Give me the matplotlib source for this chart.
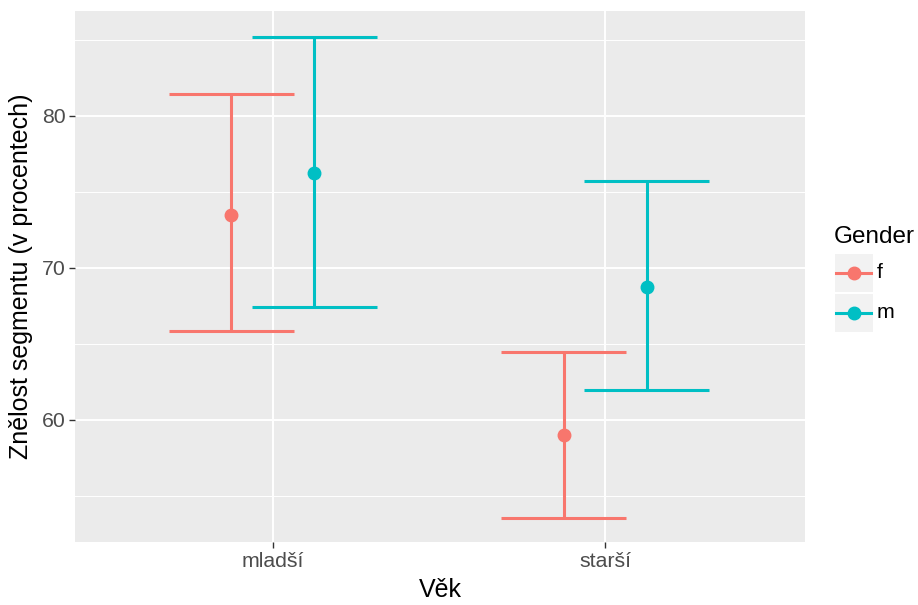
import matplotlib
matplotlib.use("Agg")
import matplotlib.pyplot as plt
from matplotlib.lines import Line2D
from matplotlib.patches import Rectangle
import numpy as np

plt.rcParams['font.family'] = ['Liberation Sans', 'DejaVu Sans']

# Data
categories = ["mladší", "starší"]
genders = ["f", "m"]
means = {"f": [73.5, 58.97], "m": [76.25, 68.75]}
lower = {"f": [65.84, 53.55], "m": [67.43, 61.97]}
upper = {"f": [81.43, 64.47], "m": [85.2, 75.72]}
colors = {"f": "#F8766D", "m": "#00BFC4"}
y_ticks = [60, 70, 80]

fig = plt.figure(figsize=(9.18, 6.05), dpi=100)
ax = fig.add_axes([75/918, 1-542/605, 730/918, 531/605])
ax.set_facecolor("#EBEBEB")

dodge = {"f": -0.125, "m": 0.125}
cap = 0.1875
lw = 2.2
x0 = np.arange(1, len(categories) + 1)
for g in genders:
    xs = x0 + dodge[g]
    c = colors[g]
    for xi, m, lo, hi in zip(xs, means[g], lower[g], upper[g]):
        ax.plot([xi, xi], [lo, hi], color=c, lw=lw, solid_capstyle="butt", zorder=3)
        ax.plot([xi - cap, xi + cap], [lo, lo], color=c, lw=lw, solid_capstyle="butt", zorder=3)
        ax.plot([xi - cap, xi + cap], [hi, hi], color=c, lw=lw, solid_capstyle="butt", zorder=3)
    ax.plot(xs, means[g], "o", color=c, ms=9, zorder=4)

ax.set_xlim(0.404, 2.602)
ax.set_ylim(51.95, 86.9)
ax.set_xticks(x0)
ax.set_xticklabels(categories)
ax.set_yticks(y_ticks)
ax.set_yticks([55, 65, 75, 85], minor=True)
ax.grid(which="major", color="white", lw=1.4)
ax.grid(which="minor", axis="y", color="white", lw=0.7)
ax.set_axisbelow(True)
for s in ax.spines.values():
    s.set_visible(False)
ax.tick_params(which="major", length=4, width=1, color="#333333", labelcolor="#4D4D4D",
               labelsize=15.3, pad=3)
ax.tick_params(which="minor", length=0)
ax.set_xlabel("Věk", fontsize=18, color="black", labelpad=5)
ax.set_ylabel("Znělost segmentu (v procentech)", fontsize=18, color="black", labelpad=6)

# Legend
fig.text(834/918, 1-237/605, "Gender", fontsize=17.5, va="center", ha="left")
for i, g in enumerate(genders):
    yc = 273 + 40 * i
    fig.add_artist(Rectangle((835/918, 1-(yc+19)/605), 38/918, 38/605,
                             transform=fig.transFigure, facecolor="#F2F2F2", edgecolor="none"))
    fig.add_artist(Line2D([836/918, 871/918], [1-yc/605, 1-yc/605], transform=fig.transFigure,
                          color=colors[g], lw=lw))
    fig.add_artist(Line2D([854/918], [1-yc/605], transform=fig.transFigure, marker="o",
                          color=colors[g], ms=9))
    fig.text(877/918, 1-yc/605, g, fontsize=15.3, va="center", ha="left")

fig.savefig("out.png", dpi=100)
